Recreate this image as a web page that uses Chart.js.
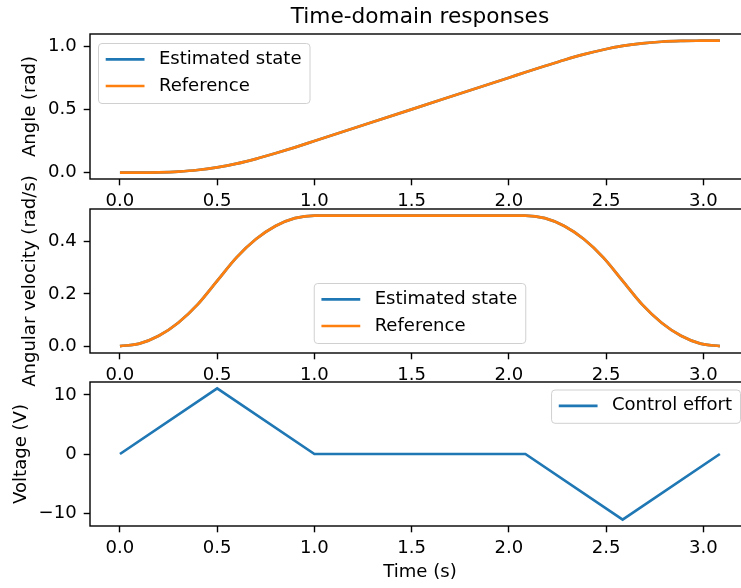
<!DOCTYPE html>
<html lang="en">
<head>
    <meta charset="UTF-8">
    <title>Time-domain responses</title>
    <script src="https://cdn.jsdelivr.net/npm/chart.js"></script>
    <style>
        body { margin: 0; background: #fff; }
        .figure {
            position: relative;
            width: 741px;
            height: 588px;
            overflow: hidden;
        }
        .figure canvas {
            position: absolute;
            left: 0;
            top: 0;
        }
    </style>
</head>
<body>
    <div class="figure">
        <canvas id="angleChart" width="760" height="588"></canvas>
        <canvas id="velocityChart" width="760" height="588"></canvas>
        <canvas id="effortChart" width="760" height="588"></canvas>
    </div>

    <script>
        // values
        const timeSec = [0, 0.1, 0.2, 0.3, 0.4, 0.5, 0.6, 0.7, 0.8, 0.9, 1.0, 1.5, 2.0,
            2.085, 2.185, 2.285, 2.385, 2.485, 2.585, 2.685, 2.785, 2.885, 2.985, 3.085];
        const angleEstimated = [0, 0.0003, 0.003, 0.009, 0.021, 0.042, 0.071, 0.109, 0.153, 0.2, 0.25, 0.5, 0.75,
            0.793, 0.842, 0.89, 0.934, 0.971, 1.001, 1.021, 1.034, 1.04, 1.042, 1.043];
        const angleReference = [0, 0.0003, 0.003, 0.009, 0.021, 0.042, 0.071, 0.109, 0.153, 0.2, 0.25, 0.5, 0.75,
            0.793, 0.842, 0.89, 0.934, 0.971, 1.001, 1.021, 1.034, 1.04, 1.042, 1.043];
        const velocityEstimated = [0, 0.01, 0.04, 0.09, 0.16, 0.25, 0.34, 0.41, 0.46, 0.49, 0.5, 0.5, 0.5,
            0.5, 0.49, 0.46, 0.41, 0.34, 0.25, 0.16, 0.09, 0.04, 0.01, 0];
        const velocityReference = [0, 0.01, 0.04, 0.09, 0.16, 0.25, 0.34, 0.41, 0.46, 0.49, 0.5, 0.5, 0.5,
            0.5, 0.49, 0.46, 0.41, 0.34, 0.25, 0.16, 0.09, 0.04, 0.01, 0];
        const effortTime = [0, 0.5, 1.0, 2.085, 2.585, 3.085];
        const effortVolts = [0, 11.1, 0, 0, -11.1, 0];

        const timeTicks = [0, 0.5, 1.0, 1.5, 2.0, 2.5, 3.0];
        const angleTicks = [0, 0.5, 1.0];
        const velocityTicks = [0, 0.2, 0.4];
        const effortTicks = [-10, 0, 10];

        const BLUE = '#1f77b4';
        const ORANGE = '#ff7f0e';
        const FONT = 'DejaVu Sans';
        const FS = 18.06;

        Chart.defaults.font.family = FONT;
        Chart.defaults.font.size = FS;
        Chart.defaults.color = '#000';

        const pairs = (xs, ys) => xs.map((x, i) => ({ x: x, y: ys[i] }));
        const minus = s => String(s).replace('-', '\u2212');

        // frame (spines), title and an in-axes legend, matplotlib style
        const axesDecor = {
            id: 'axesDecor',
            afterDatasetsDraw(chart, args, opts) {
                const ctx = chart.ctx, a = chart.chartArea;
                ctx.save();
                ctx.strokeStyle = '#000';
                ctx.lineWidth = 1.4;
                ctx.strokeRect(a.left, a.top, a.right - a.left, a.bottom - a.top);

                if (opts.title) {
                    ctx.font = '21.67px "' + FONT + '"';
                    ctx.fillStyle = '#000';
                    ctx.textAlign = 'center';
                    ctx.textBaseline = 'alphabetic';
                    ctx.fillText(opts.title, (a.left + a.right) / 2, a.top - 11);
                }

                const items = chart.data.datasets.map(d => ({ text: d.label, color: d.borderColor }));
                ctx.font = FS + 'px "' + FONT + '"';
                const tw = Math.max(...items.map(it => ctx.measureText(it.text).width));
                const w = 7.2 + 38.8 + 14.4 + tw + 8.5;
                const h = 7.2 * 2 + 18.9 + 26.7 * (items.length - 1);
                let x, y;
                if (opts.loc === 'upper left') {
                    x = a.left + 8.5; y = a.top + 9.5;
                } else if (opts.loc === 'lower center') {
                    x = (a.left + a.right) / 2 - w / 2; y = a.bottom - 9.5 - h;
                } else {
                    x = a.right - 9.5 - w; y = a.top + 8;
                }
                ctx.beginPath();
                ctx.roundRect(x, y, w, h, 3.5);
                ctx.fillStyle = 'rgba(255,255,255,0.8)';
                ctx.fill();
                ctx.strokeStyle = '#d0d0d0';
                ctx.lineWidth = 1;
                ctx.stroke();

                ctx.textAlign = 'left';
                ctx.textBaseline = 'middle';
                items.forEach((it, i) => {
                    const cy = y + 15.8 + i * 26.7;
                    ctx.beginPath();
                    ctx.moveTo(x + 7.2, cy);
                    ctx.lineTo(x + 46, cy);
                    ctx.strokeStyle = it.color;
                    ctx.lineWidth = 2.7;
                    ctx.stroke();
                    ctx.fillStyle = '#000';
                    ctx.fillText(it.text, x + 60.4, cy);
                });
                ctx.restore();
            }
        };

        function makeChart(id, cfg) {
            const xAxis = {
                type: 'linear',
                min: -0.154,
                max: 3.24,
                afterBuildTicks: s => { s.ticks = timeTicks.map(v => ({ value: v })); },
                afterFit: s => { s.height = cfg.xHeight; },
                ticks: { padding: 5, callback: v => v.toFixed(1), maxRotation: 0 },
                grid: { drawOnChartArea: false, drawTicks: true, tickLength: 6.3, tickWidth: 1.4, tickColor: '#000' },
                border: { display: false },
                title: cfg.xTitle
                    ? { display: true, text: cfg.xTitle, padding: { top: 0, bottom: 5 } }
                    : { display: false }
            };
            const yAxis = {
                min: cfg.yMin,
                max: cfg.yMax,
                afterBuildTicks: s => { s.ticks = cfg.yTicks.map(v => ({ value: v })); },
                afterFit: s => { s.width = 90; },
                ticks: { padding: 7, callback: cfg.yFormat },
                grid: { drawOnChartArea: false, drawTicks: true, tickLength: 6.3, tickWidth: 1.4, tickColor: '#000' },
                border: { display: false },
                title: { display: true, text: cfg.yTitle, padding: { top: cfg.yTitlePad, bottom: 0 } }
            };
            return new Chart(document.getElementById(id), {
                type: 'line',
                data: { datasets: cfg.datasets },
                options: {
                    responsive: false,
                    animation: false,
                    layout: { padding: { left: 0, right: 10, top: cfg.padTop, bottom: cfg.padBottom } },
                    elements: { point: { radius: 0 } },
                    scales: { x: xAxis, y: yAxis },
                    plugins: {
                        legend: { display: false },
                        tooltip: { enabled: false },
                        axesDecor: { loc: cfg.legendLoc, title: cfg.title }
                    }
                },
                plugins: [axesDecor]
            });
        }

        // lower "order" is painted last, so Reference sits on top like in matplotlib
        const smoothLine = (label, xs, ys, color, order) => ({
            label: label,
            data: pairs(xs, ys),
            borderColor: color,
            backgroundColor: color,
            borderWidth: 2.7,
            cubicInterpolationMode: 'monotone',
            order: order,
            fill: false
        });

        makeChart('angleChart', {
            title: 'Time-domain responses',
            yTitle: 'Angle (rad)',
            yTitlePad: 19,
            yMin: -0.05, yMax: 1.095,
            yTicks: angleTicks,
            yFormat: v => v.toFixed(1),
            padTop: 34, padBottom: 369, xHeight: 40,
            legendLoc: 'upper left',
            datasets: [
                smoothLine('Estimated state', timeSec, angleEstimated, BLUE, 1),
                smoothLine('Reference', timeSec, angleReference, ORANGE, 0)
            ]
        });

        makeChart('velocityChart', {
            yTitle: 'Angular velocity (rad/s)',
            yTitlePad: 19,
            yMin: -0.026, yMax: 0.525,
            yTicks: velocityTicks,
            yFormat: v => v.toFixed(1),
            padTop: 209, padBottom: 195, xHeight: 40,
            legendLoc: 'lower center',
            datasets: [
                smoothLine('Estimated state', timeSec, velocityEstimated, BLUE, 1),
                smoothLine('Reference', timeSec, velocityReference, ORANGE, 0)
            ]
        });

        makeChart('effortChart', {
            yTitle: 'Voltage (V)',
            yTitlePad: 10,
            xTitle: 'Time (s)',
            yMin: -12.2, yMax: 12.2,
            yTicks: effortTicks,
            yFormat: v => minus(v),
            padTop: 382, padBottom: 0, xHeight: 62,
            legendLoc: 'upper right',
            datasets: [{
                label: 'Control effort',
                data: pairs(effortTime, effortVolts),
                borderColor: BLUE,
                backgroundColor: BLUE,
                borderWidth: 2.7,
                tension: 0,
                fill: false
            }]
        });
    </script>
</body>
</html>
